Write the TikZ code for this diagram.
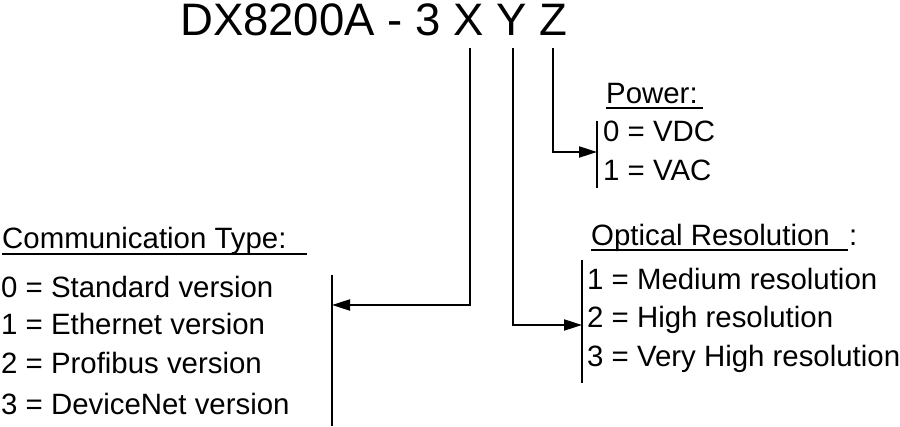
\documentclass[tikz,border=0pt]{standalone}
\usepackage{fontspec}
\setmainfont{Liberation Sans}
\usetikzlibrary{arrows.meta}
\begin{document}
\begin{tikzpicture}[x=1pt,y=-1pt,
  txt/.style={anchor=base west,inner sep=0pt,font=\fontsize{29.4}{29.4}\selectfont},
  ttl/.style={anchor=base west,inner sep=0pt,font=\fontsize{45.5}{45.5}\selectfont},
  ln/.style={line width=2pt},
  arr/.style={line width=2pt,-{Triangle[length=18pt,width=11pt]}},
  bar/.style={line width=2pt}]
\useasboundingbox (0,0) rectangle (900,427);
% title
\node[ttl] (title) at (180,36) {DX8200A - 3 X Y Z};
\coordinate (xs) at (470,48);
\coordinate (ys) at (513,48);
\coordinate (zs) at (553,48);
% Power
\node[txt] (pw) at (606,104) {Power:};
\draw[ln] (606,108) -- (703,108);
\node[txt] (p0) at (603,142) {0 = VDC};
\node[txt] (p1) at (603,181) {1 = VAC};
\coordinate (pbt) at (597,121);
\coordinate (pbb) at (597,188);
\draw[bar] (pbt) -- (pbb);
\coordinate (pa) at (597,152);
\draw[arr] (zs) |- (pa);
% Optical
\node[txt] (op) at (591,246) {Optical Resolution};
\node[txt] (opc) at (849,246) {:};
\draw[ln] (591,250) -- (848,250);
\node[txt] (o1) at (587,290) {1 = Medium resolution};
\node[txt] (o2) at (587,328) {2 = High resolution};
\node[txt] (o3) at (587,367) {3 = Very High resolution};
\coordinate (obt) at (582,260);
\coordinate (obb) at (582,383);
\draw[bar] (obt) -- (obb);
\coordinate (oa) at (582,325);
\draw[arr] (ys) |- (oa);
% Communication
\node[txt] (ct) at (2,249) {Communication Type:};
\draw[ln] (2,254) -- (307,254);
\node[txt] (c0) at (1,298) {0 = Standard version};
\node[txt] (c1) at (1,335) {1 = Ethernet version};
\node[txt] (c2) at (1,374) {2 = Profibus version};
\node[txt] (c3) at (1,415) {3 = DeviceNet version};
\coordinate (cbt) at (332,275);
\coordinate (cbb) at (332,426);
\draw[bar] (cbt) -- (cbb);
\coordinate (ca) at (332,305);
\draw[arr] (xs) |- (ca);
\end{tikzpicture}
\end{document}
